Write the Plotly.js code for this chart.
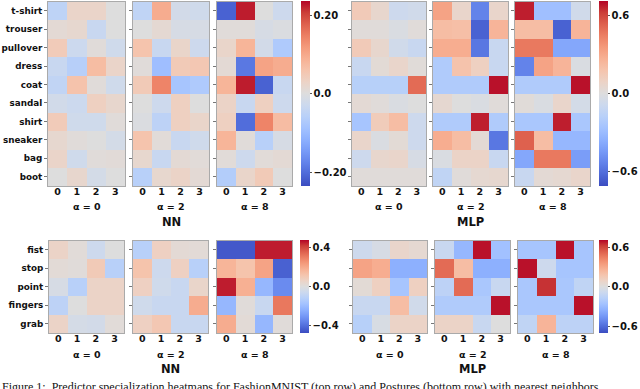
<!DOCTYPE html>
<html>
<head>
<meta charset="utf-8">
<script src="https://cdn.plot.ly/plotly-3.0.1.min.js"></script>
<style>
  html, body { margin: 0; padding: 0; background: #fff; }
  #chart { width: 640px; height: 389px; }
</style>
</head>
<body>
<div id="chart"></div>
<script>
const W = 640, H = 389;

/* =========================
   DATA
========================= */
const fashionClasses = ["t-shirt", "trouser", "pullover", "dress", "coat", "sandal", "shirt", "sneaker", "bag", "boot"];
const postureClasses = ["fist", "stop", "point", "fingers", "grab"];
const predictors = [0, 1, 2, 3];
const alphaLabels = ["α = 0", "α = 2", "α = 8"];

// FashionMNIST, nearest neighbours
const fashionNN0 = [
  [-0.050, 0.025, 0.025, 0.000], [0.012, 0.018, -0.035, 0.000], [0.045, -0.030, 0.005, -0.025],
  [-0.035, -0.060, 0.070, 0.025], [-0.045, 0.060, 0.005, -0.025], [-0.020, -0.030, 0.035, 0.020],
  [0.045, -0.025, -0.025, 0.005], [0.018, 0.005, 0.000, -0.018], [0.025, -0.025, 0.005, 0.008],
  [0.000, 0.020, -0.018, 0.000]
];
const fashionNN2 = [
  [-0.047, 0.094, -0.019, -0.024], [0.000, 0.014, -0.012, -0.012], [0.059, -0.035, 0.024, -0.028],
  [0.005, -0.094, 0.047, 0.052], [0.047, 0.141, -0.082, -0.071], [0.000, -0.028, 0.035, 0.000],
  [-0.005, -0.052, 0.035, 0.024], [0.059, 0.007, -0.035, -0.024], [0.019, -0.035, 0.012, 0.007],
  [-0.059, 0.019, 0.028, 0.012]
];
const fashionNN8 = [
  [-0.212, 0.223, 0.000, -0.028], [0.005, 0.005, -0.012, -0.005], [0.024, 0.082, -0.019, -0.071],
  [0.012, -0.188, 0.106, 0.094], [0.082, 0.223, -0.212, -0.035], [0.028, -0.035, 0.035, -0.028],
  [0.035, -0.200, 0.141, 0.071], [0.082, 0.005, -0.059, -0.012], [0.007, -0.028, 0.007, 0.012],
  [-0.066, 0.024, 0.047, 0.000]
];

// FashionMNIST, MLP
const fashionMLP0 = [
  [0.14, 0.06, -0.085, -0.07], [0.015, 0.015, -0.02, 0.015], [0.14, 0.06, -0.07, -0.105],
  [-0.105, 0.03, 0.07, 0.02], [-0.18, -0.18, -0.18, 0.50], [0.035, 0.015, -0.02, 0.0],
  [-0.25, 0.13, 0.21, -0.085], [0.07, -0.02, 0.03, -0.085], [-0.085, 0.06, 0.07, -0.035],
  [0.015, 0.015, 0.015, 0.015]
];
const fashionMLP2 = [
  [0.32, 0.07, -0.53, 0.07], [0.21, 0.20, -0.64, 0.25], [0.28, 0.28, -0.57, -0.105],
  [-0.21, 0.18, 0.105, -0.105], [-0.21, -0.21, -0.21, 0.69], [0.05, 0.0, -0.02, 0.015],
  [-0.21, -0.21, 0.67, -0.21], [0.28, 0.21, 0.035, -0.57], [-0.02, 0.085, 0.085, -0.105],
  [-0.14, 0.015, 0.045, 0.055]
];
const fashionMLP8 = [
  [0.67, -0.28, -0.28, -0.07], [0.21, 0.21, -0.64, 0.25], [0.46, 0.46, -0.39, -0.39],
  [-0.53, 0.32, 0.25, -0.02], [-0.21, -0.21, -0.21, 0.69], [0.02, -0.02, 0.07, -0.05],
  [-0.235, -0.235, 0.67, -0.235], [0.53, 0.21, -0.32, -0.32], [-0.39, 0.46, 0.46, -0.43],
  [-0.105, 0.035, 0.045, 0.07]
];

// Postures, nearest neighbours
const postureNN0 = [
  [0.057, 0.014, -0.057, 0.000], [0.019, 0.010, 0.095, -0.120], [-0.024, -0.120, 0.057, 0.057],
  [-0.105, 0.000, 0.057, 0.057], [0.057, -0.033, -0.038, 0.014]
];
const postureNN2 = [
  [-0.120, 0.070, 0.024, 0.019], [0.120, -0.057, 0.070, -0.120], [0.070, -0.048, -0.070, 0.048],
  [-0.048, -0.070, -0.070, 0.190], [0.070, 0.105, -0.070, -0.070]
];
const postureNN8 = [
  [-0.450, -0.450, 0.450, 0.450], [0.166, 0.120, 0.214, -0.430], [0.450, 0.180, -0.214, -0.333],
  [-0.214, 0.010, -0.070, 0.310], [0.190, 0.019, -0.214, 0.010]
];

// Postures, MLP
const postureMLP0 = [
  [-0.085, -0.035, 0.07, 0.045], [0.32, 0.28, -0.355, -0.355], [0.03, 0.105, -0.25, 0.105],
  [-0.105, -0.105, 0.21, -0.07], [-0.18, -0.03, 0.085, 0.085]
];
const postureMLP2 = [
  [-0.105, -0.32, 0.69, -0.27], [0.50, 0.21, -0.355, -0.355], [-0.155, 0.50, -0.235, -0.105],
  [-0.21, -0.21, -0.21, 0.69], [0.085, 0.085, -0.105, 0.0]
];
const postureMLP8 = [
  [-0.25, -0.25, 0.69, -0.25], [0.69, -0.085, -0.25, -0.25], [-0.235, 0.64, -0.235, -0.14],
  [-0.235, -0.235, -0.235, 0.69], [-0.14, 0.25, -0.155, -0.155]
];

// colour bar ranges and ticks
const nnFashionRange = 0.235, mlpRange = 0.71, nnPostureRange = 0.475;
const nnFashionTicks = [-0.2, 0, 0.2], nnFashionTickText = ["−0.20", "0.0", "0.20"];
const nnPostureTicks = [-0.4, 0, 0.4], nnPostureTickText = ["−0.4", "0.0", "0.4"];
const mlpTicks = [-0.6, 0, 0.6], mlpTickText = ["−0.6", "0.0", "0.6"];

const caption = "Figure 1:  Predictor specialization heatmaps for FashionMNIST (top row) and Postures (bottom row) with nearest neighbors";

/* =========================
   STYLE
========================= */
const FONT = "DejaVu Sans";
const coolwarm = [
  [0, "rgb(59,76,192)"], [0.0625, "rgb(77,104,215)"], [0.125, "rgb(98,130,234)"],
  [0.1875, "rgb(119,154,247)"], [0.25, "rgb(141,176,254)"], [0.3125, "rgb(163,194,255)"],
  [0.375, "rgb(184,208,249)"], [0.4375, "rgb(204,217,238)"], [0.5, "rgb(221,221,221)"],
  [0.5625, "rgb(236,211,198)"], [0.625, "rgb(245,196,173)"], [0.6875, "rgb(247,177,148)"],
  [0.75, "rgb(244,154,123)"], [0.8125, "rgb(236,127,99)"], [0.875, "rgb(222,96,77)"],
  [0.9375, "rgb(203,62,56)"], [1, "rgb(180,4,38)"]
];

const px = v => v / W;
const py = v => 1 - v / H;

// panel rows in pixels
const topRow = { y0: 1.5, y1: 186, tickLabelsY: 206, groupY: 222 };
const botRow = { y0: 240.5, y1: 333, tickLabelsY: 354, groupY: 369 };

const panels = [
  { z: fashionNN0, cats: fashionClasses, row: topRow, x: [48, 125], cax: 1, labels: true },
  { z: fashionNN2, cats: fashionClasses, row: topRow, x: [133, 209], cax: 1, group: "NN" },
  { z: fashionNN8, cats: fashionClasses, row: topRow, x: [217, 292], cax: 1 },
  { z: fashionMLP0, cats: fashionClasses, row: topRow, x: [352, 426], cax: 2 },
  { z: fashionMLP2, cats: fashionClasses, row: topRow, x: [433, 508], cax: 2, group: "MLP" },
  { z: fashionMLP8, cats: fashionClasses, row: topRow, x: [515, 590], cax: 2 },
  { z: postureNN0, cats: postureClasses, row: botRow, x: [49, 124], cax: 3, labels: true },
  { z: postureNN2, cats: postureClasses, row: botRow, x: [133, 208], cax: 3, group: "NN" },
  { z: postureNN8, cats: postureClasses, row: botRow, x: [217, 292], cax: 3 },
  { z: postureMLP0, cats: postureClasses, row: botRow, x: [353, 427], cax: 4 },
  { z: postureMLP2, cats: postureClasses, row: botRow, x: [435, 510], cax: 4, group: "MLP" },
  { z: postureMLP8, cats: postureClasses, row: botRow, x: [518, 593], cax: 4 }
];

const layout = {
  width: W, height: H,
  margin: { t: 0, r: 0, b: 0, l: 0 },
  paper_bgcolor: "#fff",
  plot_bgcolor: "#fff",
  font: { family: FONT, color: "#111" },
  showlegend: false,
  annotations: []
};

const traces = [];
panels.forEach((p, i) => {
  const n = i + 1;
  const sfx = n === 1 ? "" : String(n);
  traces.push({
    type: "heatmap",
    x: predictors,
    y: p.cats,
    z: p.z,
    coloraxis: p.cax === 1 ? "coloraxis" : "coloraxis" + p.cax,
    xaxis: "x" + sfx,
    yaxis: "y" + sfx,
    hoverinfo: "skip"
  });
  layout["xaxis" + sfx] = {
    domain: [px(p.x[0]), px(p.x[1])],
    anchor: "y" + sfx,
    range: [-0.5, 3.5],
    tickvals: predictors,
    ticks: "",
    ticklabelstandoff: -3,
    tickfont: { family: FONT, size: 9.5, weight: "bold", color: "#111" },
    showline: true, mirror: true, linecolor: "#aaa", linewidth: 1,
    showgrid: false, zeroline: false, fixedrange: true
  };
  layout["yaxis" + sfx] = {
    domain: [py(p.row.y1), py(p.row.y0)],
    anchor: "x" + sfx,
    type: "category",
    autorange: "reversed",
    ticks: "outside", ticklen: 3, tickcolor: "#777",
    showticklabels: !!p.labels,
    tickfont: { family: FONT, size: 8.8, weight: "bold", color: "#111" },
    showline: true, mirror: true, linecolor: "#aaa", linewidth: 1,
    showgrid: false, zeroline: false, fixedrange: true
  };
  layout.annotations.push({
    text: alphaLabels[i % 3],
    x: px((p.x[0] + p.x[1]) / 2), y: py(p.row.tickLabelsY),
    xref: "paper", yref: "paper", xanchor: "center", yanchor: "middle",
    showarrow: false,
    font: { family: FONT, size: 9.5, weight: "bold", color: "#111" }
  });
  if (p.group) {
    layout.annotations.push({
      text: p.group,
      x: px((p.x[0] + p.x[1]) / 2), y: py(p.row.groupY),
      xref: "paper", yref: "paper", xanchor: "center", yanchor: "middle",
      showarrow: false,
      font: { family: FONT, size: 11.5, weight: "bold", color: "#111" }
    });
  }
});

function colorAxis(range, tickvals, ticktext, x0, row) {
  return {
    cmin: -range, cmax: range,
    colorscale: coolwarm,
    colorbar: {
      x: px(x0), xanchor: "left",
      y: py((row.y0 + row.y1) / 2), yanchor: "middle",
      len: (row.y1 - row.y0) / H, lenmode: "fraction",
      thickness: 8.5, thicknessmode: "pixels",
      outlinewidth: 0, xpad: 0, ypad: 0,
      tickvals: tickvals, ticktext: ticktext,
      ticks: "outside", ticklen: 2, tickcolor: "#555",
      tickfont: { family: FONT, size: 10, weight: "bold", color: "#111" }
    }
  };
}

layout.coloraxis = colorAxis(nnFashionRange, nnFashionTicks, nnFashionTickText, 301, topRow);
layout.coloraxis2 = colorAxis(mlpRange, mlpTicks, mlpTickText, 599, topRow);
layout.coloraxis3 = colorAxis(nnPostureRange, nnPostureTicks, nnPostureTickText, 300, botRow);
layout.coloraxis4 = colorAxis(mlpRange, mlpTicks, mlpTickText, 599, botRow);

layout.annotations.push({
  text: caption,
  x: 0, y: py(377.5),
  xref: "paper", yref: "paper", xanchor: "left", yanchor: "top",
  showarrow: false,
  font: { family: "Liberation Serif", size: 12, color: "#111" }
});

Plotly.newPlot("chart", traces, layout, { displayModeBar: false, staticPlot: true });
</script>
</body>
</html>
